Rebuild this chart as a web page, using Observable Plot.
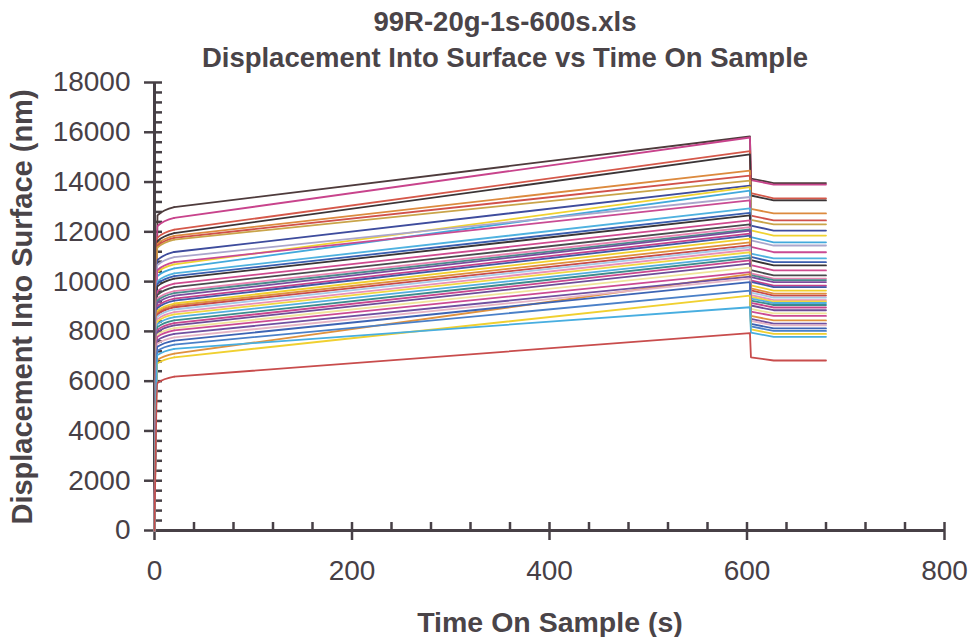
<!DOCTYPE html>
<html>
<head>
<meta charset="utf-8">
<script src="https://cdn.jsdelivr.net/npm/d3@7"></script>
<script src="https://cdn.jsdelivr.net/npm/@observablehq/plot@0.6"></script>
<style>
  body { margin: 0; background: #fff; }
  #wrap { position: relative; width: 972px; height: 637px; font-family: "Liberation Sans", Arial, sans-serif; color: #4a4448; overflow: hidden; }
  .title { position: absolute; left: 0; width: 1010px; text-align: center; font-weight: bold; font-size: 27.5px; line-height: 32px; }
  .xtitle { position: absolute; left: 0; width: 1100px; top: 606px; text-align: center; font-weight: bold; font-size: 28.5px; line-height: 32px; }
  .ytitle { position: absolute; left: 22px; top: 307px; width: 500px; margin-left: -250px; margin-top: -16px; text-align: center; font-weight: bold; font-size: 29px; line-height: 32px; transform: rotate(-90deg); }
  #chart { position: absolute; left: 0; top: 0; }
</style>
</head>
<body>
<div id="wrap">
  <div id="chart"></div>
  <div class="title" style="top:6px">99R-20g-1s-600s.xls</div>
  <div class="title" style="top:42px">Displacement Into Surface vs Time On Sample</div>
  <div class="xtitle">Time On Sample (s)</div>
  <div class="ytitle">Displacement Into Surface (nm)</div>
</div>
<script>
// Time points (s): start, end of loading knee, early creep, end of hold, after unload, end of unload drift, end of test
const times = [0, 3, 20, 603, 604, 627, 680];

// Displacement (nm) per test
const disp3 = [12660,12230,11770,11630,11520,11440,11370,10870,10380,10220,10660,10460,10010,9910,9810,9610,9470,9320,9240,9140,9020,8940,8830,8750,8680,8590,8480,8400,8290,8170,8060,7970,7870,7780,6850,7640,7500,7380,7220,6720,7050,5930];
const disp20 = [12990,12560,12090,11950,11840,11760,11690,11190,10690,10530,10980,10780,10330,10220,10120,9920,9780,9620,9540,9440,9320,9240,9120,9040,8970,8880,8770,8680,8570,8440,8330,8240,8130,8040,7110,7900,7760,7630,7470,6960,7300,6180];
const disp600 = [15830,15790,15240,15110,14460,14260,14060,13860,13800,13660,13400,13260,12940,12760,12660,12460,12300,12190,12100,12050,11930,11850,11730,11580,11460,11380,11280,11180,11050,10950,10850,10720,10560,10380,10300,10200,10120,9980,9640,9440,8970,7930];
const disp604 = [14140,14080,13560,13460,12920,12650,12480,12250,12060,11790,11660,11400,11120,10990,10860,10660,10460,10330,10260,10180,10050,9990,9850,9730,9650,9560,9460,9390,9320,9240,9150,9040,8900,8790,8620,8500,8420,8300,8200,8080,7950,6960];
const disp680 = [13960,13900,13340,13260,12740,12460,12300,12050,11850,11580,11450,11180,10930,10780,10650,10450,10250,10120,10060,9980,9840,9780,9640,9520,9440,9360,9260,9200,9140,9060,8960,8850,8720,8620,8440,8310,8240,8120,8020,7900,7780,6830];

// Line colours (scanned Excel palette)
const colors = ["#4e3b3c","#c8438c","#d5584a","#3b3537","#dc8a3e","#d0514b","#c9a449","#3e4c9d","#f0d230","#42a9dc",
  "#aaa6cc","#c94b93","#4fb2e0","#3a5eb0","#3a3436","#d04a90","#4a4a4e","#e882b0","#4a8a8c","#7b4c9c",
  "#c4408a","#4058a8","#efcf2c","#e0903c","#c84a4a","#a6c8e6","#e890b8","#f2d640","#52aede","#3c8c8c",
  "#c8468e","#6e4c98","#efe49a","#cc4a94","#e0923e","#7050a0","#e6b4c4","#3c64b4","#4a80c8","#f0d030",
  "#48aee0","#c84c4c"];

const xMajor = [0, 200, 400, 600, 800];
const xMinor = d3.range(0, 801, 40);
const yMajor = d3.range(0, 18001, 2000);
const yMinor = d3.range(0, 18001, 400);

const rows = [];
disp600.forEach((_, i) => {
  const vals = [0, disp3[i], disp20[i], disp600[i], disp604[i], disp680[i], disp680[i]];
  times.forEach((t, j) => rows.push({series: i, step: j, t, v: vals[j], color: colors[i]}));
});
const kneeRows = rows.filter(r => r.step <= 2);
const holdRows = rows.filter(r => r.step >= 2);

const ink = "#474046";
const plain = d => String(d);
const chart = Plot.plot({
  width: 972, height: 637,
  marginLeft: 154, marginRight: 28, marginTop: 82, marginBottom: 107,
  style: {fontFamily: "'Liberation Sans', Arial, sans-serif", fontSize: "28px", color: ink, background: "transparent"},
  x: {domain: [0, 800]},
  y: {domain: [0, 18000]},
  marks: [
    Plot.ruleY([0], {stroke: ink, strokeWidth: 3}),
    Plot.ruleX([0], {stroke: ink, strokeWidth: 3}),
    Plot.axisX(xMajor, {anchor: "bottom", tickSize: 10, tickPadding: 20, tickFormat: plain, label: null, stroke: ink, strokeWidth: 2.5, fontSize: 28, fill: ink}),
    Plot.axisX(xMinor, {anchor: "bottom", tickSize: -8, tickFormat: () => "", label: null, stroke: ink, strokeWidth: 2.5}),
    Plot.axisY(yMajor, {anchor: "left", tickSize: 10, tickPadding: 14, tickFormat: plain, label: null, stroke: ink, strokeWidth: 2.5, fontSize: 28, fill: ink}),
    Plot.axisY(yMinor, {anchor: "left", tickSize: -8, tickFormat: () => "", label: null, stroke: ink, strokeWidth: 2.5}),
    Plot.line(kneeRows, {x: "t", y: "v", z: "series", stroke: "color", strokeWidth: 1.8, curve: "monotone-x"}),
    Plot.line(holdRows, {x: "t", y: "v", z: "series", stroke: "color", strokeWidth: 1.8, curve: "linear"})
  ]
});
document.getElementById("chart").appendChild(chart);
</script>
</body>
</html>
